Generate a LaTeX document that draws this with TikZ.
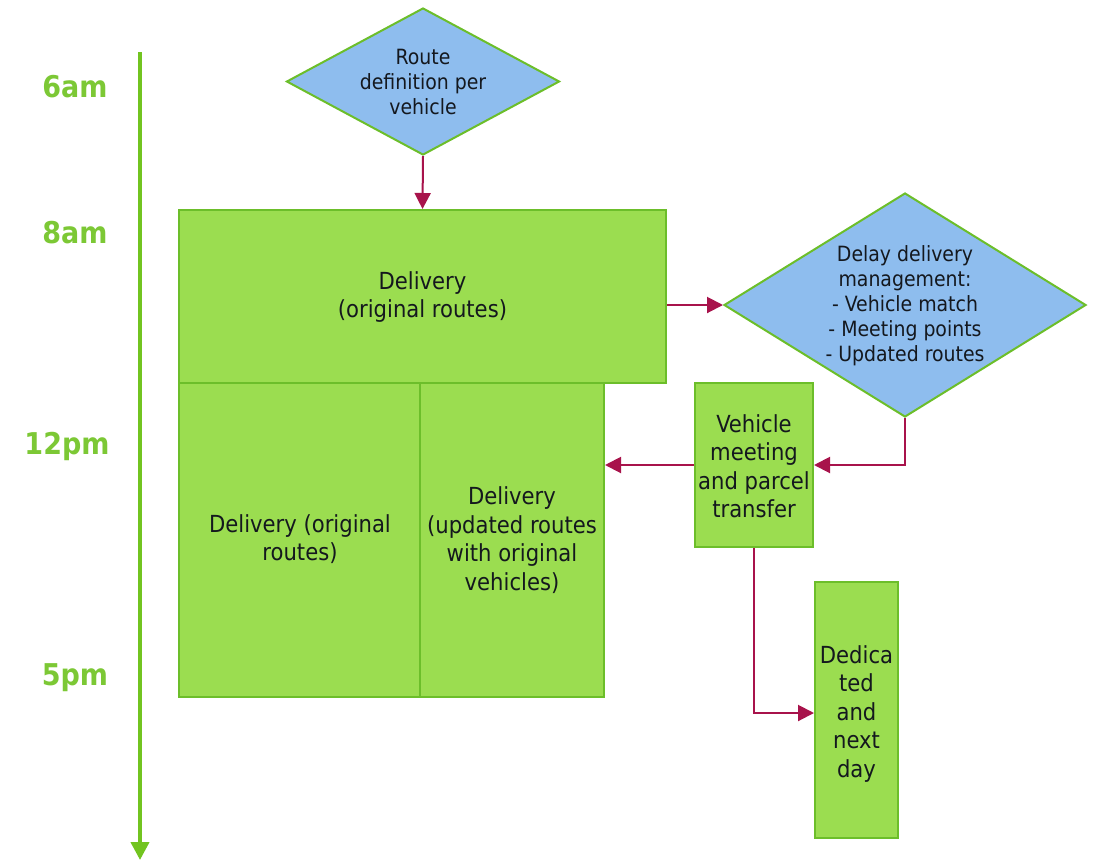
\documentclass[tikz,border=0pt]{standalone}
\usepackage{fontspec}
\setmainfont{DejaVu Sans Condensed}
\usetikzlibrary{shapes.geometric,arrows.meta}
\definecolor{boxfill}{RGB}{155,221,80}
\definecolor{boxedge}{RGB}{108,190,42}
\definecolor{dfill}{RGB}{142,189,238}
\definecolor{arrowc}{RGB}{168,19,75}
\definecolor{axisc}{RGB}{114,196,32}
\definecolor{labc}{RGB}{124,200,53}
\definecolor{txt}{RGB}{20,24,30}
\tikzset{
  x=1pt, y=-1pt,
  gbox/.style={draw=boxedge, fill=boxfill, line width=2pt, inner sep=0pt},
  dshape/.style={diamond, draw=boxedge, fill=dfill, line width=2pt, inner sep=0pt},
  btext/.style={align=center, text=txt, font=\fontsize{23.5}{28.5}\selectfont, inner sep=0pt},
  dtext/.style={align=center, text=txt, font=\fontsize{21}{25}\selectfont, inner sep=0pt},
  conn/.style={draw=arrowc, line width=2pt, -{Triangle[length=16pt,width=16pt]}},
  tlabel/.style={text=labc, font=\fontsize{30}{32}\selectfont\bfseries, inner sep=0pt},
}
\begin{document}
\begin{tikzpicture}
\useasboundingbox (0,0) rectangle (1094,865);
% time axis
\coordinate (axtop) at (140,52);
\coordinate (axbot) at (140,860);
\draw[draw=axisc, line width=4pt, -{Triangle[length=18pt,width=18pt]}] (axtop) -- (axbot);
\node[tlabel] (t6) at (75,87) {6am};
\node[tlabel] (t8) at (75,233) {8am};
\node[tlabel] (t12) at (67,446) {12pm};
\node[tlabel] (t5) at (75,678) {5pm};

% diamonds
\node[dshape, minimum width=273pt, minimum height=147pt] (d1) at (423,81.5) {};
\node[dtext] (d1t) at (d1.center) {Route\\definition per\\vehicle};
\node[dshape, minimum width=362pt, minimum height=224pt] (d2) at (905,305) {};
\node[dtext] (d2t) at (905,306) {Delay delivery\\management:\\- Vehicle match\\- Meeting points\\- Updated routes};

% boxes
\node[gbox, minimum width=487pt, minimum height=173pt] (main) at (422.5,296.5) {};
\node[btext] (maint) at (422.5,297) {Delivery\\(original routes)};
\node[gbox, minimum width=241pt, minimum height=314pt] (left) at (299.5,540) {};
\node[btext] (leftt) at (300,539) {Delivery (original\\routes)};
\node[gbox, minimum width=184pt, minimum height=314pt] (mid) at (512,540) {};
\node[btext] (midt) at (512,540) {Delivery\\(updated routes\\with original\\vehicles)};
\node[gbox, minimum width=118pt, minimum height=164pt] (veh) at (754,465) {};
\node[btext] (veht) at (754,466) {Vehicle\\meeting\\and parcel\\transfer};
\node[gbox, minimum width=83pt, minimum height=256pt] (ded) at (856.5,710) {};
\node[btext] (dedt) at (856.5,714) {Dedica\\ted\\and\\next\\day};

% connectors
\draw[conn] (d1.south) -- (main.north);
\draw[conn] (main.east |- d2.west) -- (d2.west);
\draw[conn] (d2.south) -- (d2.south |- veh.east) -- (veh.east);
\draw[conn] (veh.west) -- (veh.west -| mid.east);
\draw[conn] (veh.south) -- (veh.south |- 0,713) -- (ded.west |- 0,713);
\end{tikzpicture}
\end{document}
